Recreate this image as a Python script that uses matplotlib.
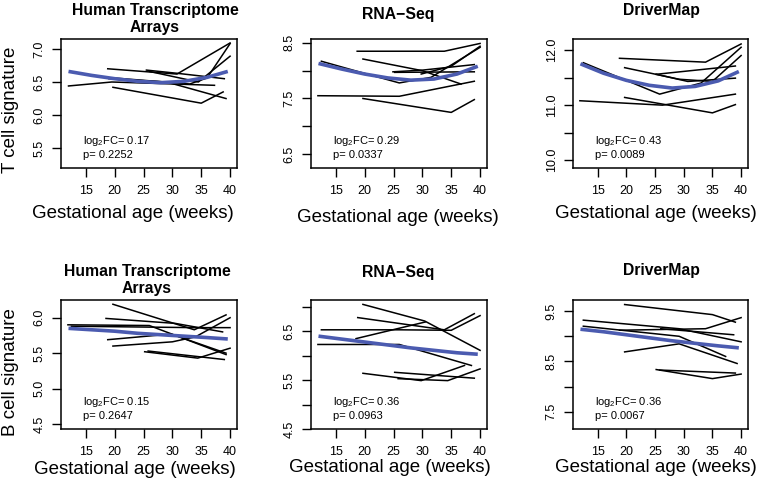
"""
plot.py: T and B cell signature trajectories across gestation, three platforms.

Writes out.png (760x487). Base-R look: boxed panels, outward ticks, rotated y labels.
"""
import matplotlib
matplotlib.use("Agg")
import matplotlib.pyplot as plt

INK, FIT = "#000000", "#4B5BB0"
W, H = 760, 487

# --- data ------------------------------------------------------------------------
X_TICKS = [15, 20, 25, 30, 35, 40]
FIT_WEEKS = [12, 16, 20, 24, 28, 32, 36, 39.6]

# T cell, Human Transcriptome Arrays
T_HTA_LINES = [
    ([12.0, 19.5, 37.3], [6.44, 6.50, 6.45]),
    ([18.8, 30.8, 40.0], [6.70, 6.62, 7.09]),
    ([25.5, 31.0, 39.0], [6.68, 6.63, 6.55]),
    ([19.7, 35.0, 38.8], [6.42, 6.18, 6.35]),
    ([19.0, 29.0, 39.3], [6.55, 6.50, 6.25]),
    ([26.0, 34.5, 40.0], [6.66, 6.50, 6.89]),
    ([20.0, 33.0, 36.0, 40.0], [6.56, 6.47, 6.56, 7.08]),
]
T_HTA_FIT = [6.66, 6.60, 6.55, 6.51, 6.49, 6.51, 6.57, 6.66]

# T cell, RNA-Seq
T_RNA_LINES = [
    ([18.7, 33.8, 40.0], [8.35, 8.35, 8.49]),
    ([19.7, 30.0, 36.7], [8.21, 8.00, 7.76]),
    ([11.9, 26.0, 39.0], [7.55, 7.54, 7.81]),
    ([19.7, 35.0, 39.0], [7.50, 7.25, 7.48]),
    ([12.5, 19.0, 26.0, 31.5, 40.0], [8.17, 7.98, 7.78, 7.88, 8.42]),
    ([24.9, 30.0, 39.0], [7.98, 8.01, 8.11]),
    ([25.2, 39.0], [7.97, 7.98]),
    ([29.8, 35.0, 40.0], [7.94, 8.08, 8.44]),
]
T_RNA_FIT = [8.13, 8.03, 7.94, 7.87, 7.83, 7.85, 7.94, 8.08]

# T cell, DriverMap
T_DM_LINES = [
    ([12.5, 19.5, 25.8, 33.0, 40.0], [11.77, 11.47, 11.20, 11.40, 12.05]),
    ([18.8, 33.8, 40.0], [11.85, 11.78, 12.11]),
    ([19.7, 29.2, 35.0, 40.0], [11.68, 11.47, 11.43, 11.90]),
    ([25.2, 39.0], [11.56, 11.71]),
    ([25.2, 30.7, 39.0], [11.56, 11.43, 11.49]),
    ([11.9, 26.3, 39.0], [11.08, 11.00, 11.20]),
    ([19.7, 35.0, 39.0], [11.14, 10.86, 11.01]),
]
T_DM_FIT = [11.75, 11.58, 11.45, 11.36, 11.31, 11.34, 11.44, 11.61]

# B cell, Human Transcriptome Arrays
B_HTA_LINES = [
    ([11.9, 26.0, 39.3], [5.90, 5.89, 5.48]),
    ([12.5, 34.0, 40.0], [5.88, 5.86, 5.86]),
    ([19.7, 33.8, 39.3], [6.19, 5.83, 6.04]),
    ([18.5, 30.5, 38.7], [5.99, 5.92, 5.80]),
    ([18.8, 29.8, 39.3], [5.69, 5.77, 5.50]),
    ([19.7, 30.0, 34.0, 40.0], [5.60, 5.66, 5.73, 6.00]),
    ([25.2, 34.4, 40.0], [5.52, 5.43, 5.57]),
    ([25.8, 39.0], [5.53, 5.41]),
]
B_HTA_FIT = [5.85, 5.83, 5.81, 5.78, 5.76, 5.74, 5.72, 5.70]

# B cell, RNA-Seq
B_RNA_LINES = [
    ([19.7, 30.4, 40.0], [7.05, 6.71, 6.11]),
    ([18.8, 33.8, 39.0], [6.78, 6.53, 6.86]),
    ([12.5, 26.0, 35.0, 40.0], [6.53, 6.53, 6.52, 6.82]),
    ([18.5, 30.5], [6.35, 6.69]),
    ([11.9, 26.0, 38.5], [6.23, 6.23, 5.80]),
    ([19.7, 29.8, 37.3], [5.64, 5.49, 5.80]),
    ([25.2, 39.0], [5.66, 5.54]),
    ([25.8, 34.4, 40.0], [5.53, 5.49, 5.73]),
]
B_RNA_FIT = [6.40, 6.34, 6.28, 6.22, 6.16, 6.11, 6.06, 6.03]

# B cell, DriverMap
B_DM_LINES = [
    ([19.7, 35.0, 39.0], [9.63, 9.43, 9.28]),
    ([12.5, 29.2, 40.0], [9.32, 9.15, 8.89]),
    ([12.5, 29.2, 37.3], [9.20, 9.00, 8.60]),
    ([18.8, 33.8, 40.0], [9.12, 9.15, 9.37]),
    ([19.7, 29.2, 39.3], [8.69, 8.85, 8.46]),
    ([25.2, 35.0, 40.0], [8.34, 8.16, 8.25]),
    ([25.8, 39.0], [8.33, 8.27]),
    ([26.0, 38.7], [9.15, 9.03]),
]
B_DM_FIT = [9.14, 9.09, 9.03, 8.97, 8.91, 8.86, 8.81, 8.77]

TITLES = ["Human Transcriptome\nArrays", "RNA\u2212Seq", "DriverMap"] * 2
LOG2FC = ["0.17", "0.29", "0.43", "0.15", "0.36", "0.36"]
PVALS = ["0.2252", "0.0337", "0.0089", "0.2647", "0.0963", "0.0067"]

Y_TICKS = [
    [5.5, 6.0, 6.5, 7.0], [6.5, 7.0, 7.5, 8.0, 8.5], [10.0, 10.5, 11.0, 11.5, 12.0],
    [4.5, 5.0, 5.5, 6.0], [4.5, 5.0, 5.5, 6.0, 6.5, 7.0], [7.5, 8.0, 8.5, 9.0, 9.5],
]
Y_LABELS = [
    ["5.5", "6.0", "6.5", "7.0"], ["6.5", "", "7.5", "", "8.5"],
    ["10.0", "", "11.0", "", "12.0"], ["4.5", "5.0", "5.5", "6.0"],
    ["4.5", "", "5.5", "", "6.5", ""], ["7.5", "", "8.5", "", "9.5"],
]
Y_LIMS = [(5.2, 7.15), (6.25, 8.57), (9.86, 12.2), (4.43, 6.25), (4.5, 7.14), (7.16, 9.72)]

# --- layout in pixels (left, right, top, bottom) -----------------------------------
BOXES = [(61, 237, 39, 168), (311, 487, 39, 168), (573, 748, 39, 168),
         (61, 237, 300, 429), (311, 487, 300, 429), (573, 748, 300, 429)]
TITLE_POS = [(155, 19), (398, 15), (661, 11), (147, 280), (398, 272), (661, 270)]
XLAB_POS = [(133, 214), (398, 217), (656, 214), (135, 469), (390, 467), (656, 467)]


def fx(x):
    return x / W


def fy(y):
    return 1 - y / H


def apply_style():
    plt.rcParams.update({
        "font.family": ["Liberation Sans", "DejaVu Sans"],
        "mathtext.fontset": "custom", "mathtext.rm": "Liberation Sans",
        "mathtext.it": "Liberation Sans:italic", "mathtext.bf": "Liberation Sans:bold",
        "axes.linewidth": 1.1, "axes.edgecolor": INK,
        "xtick.direction": "out", "ytick.direction": "out",
    })


def panel(fig, i, lines, fit):
    l, r, t, b = BOXES[i]
    ax = fig.add_axes([fx(l), fy(b), fx(r - l), (b - t) / H])
    for xs, ys in lines:
        ax.plot(xs, ys, color=INK, lw=1.1, zorder=2)
    ax.plot(FIT_WEEKS, fit, color=FIT, lw=2.6, zorder=3, solid_capstyle="butt")
    ax.set_xlim(10.7, 41.2)
    ax.set_ylim(*Y_LIMS[i])
    ax.set_xticks(X_TICKS)
    ax.set_xticklabels([str(v) for v in X_TICKS])
    ax.set_yticks(Y_TICKS[i])
    ax.set_yticklabels(Y_LABELS[i], rotation=90, va="center")
    ax.tick_params(axis="x", length=6.5, width=1, labelsize=9, pad=5.5)
    ax.tick_params(axis="y", length=6.5, width=1, labelsize=9, pad=4.5)
    ax.text(0.125, 0.21, r"log$_2$FC= " + LOG2FC[i], transform=ax.transAxes,
            fontsize=8, va="center", ha="left")
    ax.text(0.125, 0.10, "p= " + PVALS[i], transform=ax.transAxes,
            fontsize=8, va="center", ha="left")
    tx, ty = TITLE_POS[i]
    fig.text(fx(tx), fy(ty), TITLES[i], ha="center", va="center",
             fontsize=11.3, weight="bold")
    lx, ly = XLAB_POS[i]
    fig.text(fx(lx), fy(ly), "Gestational age (weeks)", ha="center",
             va="center", fontsize=13.5)
    return ax


def main():
    apply_style()
    fig = plt.figure(figsize=(W / 100, H / 100), dpi=100)
    panel(fig, 0, T_HTA_LINES, T_HTA_FIT)
    panel(fig, 1, T_RNA_LINES, T_RNA_FIT)
    panel(fig, 2, T_DM_LINES, T_DM_FIT)
    panel(fig, 3, B_HTA_LINES, B_HTA_FIT)
    panel(fig, 4, B_RNA_LINES, B_RNA_FIT)
    panel(fig, 5, B_DM_LINES, B_DM_FIT)
    fig.text(fx(11), fy(110), "T cell signature", rotation=90, ha="center",
             va="center", fontsize=13.5)
    fig.text(fx(11), fy(372), "B cell signature", rotation=90, ha="center",
             va="center", fontsize=13.5)
    fig.savefig("out.png", dpi=100, facecolor="white")
    plt.close(fig)


if __name__ == "__main__":
    main()
